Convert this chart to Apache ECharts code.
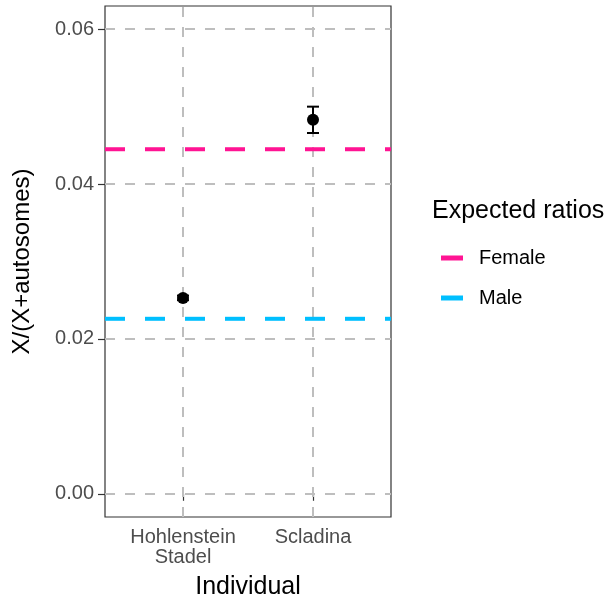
<!DOCTYPE html>
<html>
<head>
<meta charset="utf-8">
<script src="https://cdn.jsdelivr.net/npm/echarts@6/dist/echarts.min.js"></script>
<style>
  html, body { margin: 0; padding: 0; background: #fff; }
  #chart { width: 613px; height: 607px; }
</style>
</head>
<body>
<div id="chart"></div>
<script>
// data
var individuals = ["Hohlenstein\nStadel", "Scladina"];
var ratio = [0.0253, 0.0483];
var ratioLow = [0.0250, 0.0466];
var ratioHigh = [0.0256, 0.0500];
var expectedNames = ["Female", "Male"];
var expectedValues = [0.0445, 0.0226];
var expectedColors = ["#FF1493", "#00BFFF"];
var yTicks = [0, 0.02, 0.04, 0.06];

var xPos = individuals.map(function (n, i) { return i + 1; });
var gridStyle = { color: "#bebebe", width: 2, type: [10, 10] };
var font = "Liberation Sans";

var series = [];

// dashed grid lines (under everything)
series.push({
  type: "line",
  data: [],
  silent: true,
  z: 1,
  markLine: {
    z: 1,
    symbol: "none",
    silent: true,
    label: { show: false },
    lineStyle: gridStyle,
    data: yTicks.map(function (v) { return { yAxis: v }; })
      .concat(xPos.map(function (v) { return { xAxis: v }; }))
  }
});

// expected ratio lines
expectedNames.forEach(function (name, i) {
  series.push({
    name: name,
    type: "line",
    data: [[0.4, expectedValues[i]], [2.6, expectedValues[i]]],
    symbol: "none",
    silent: true,
    z: 3,
    itemStyle: { color: expectedColors[i] },
    lineStyle: { color: expectedColors[i], width: 4, type: [20, 20] }
  });
});

// error bars
series.push({
  type: "custom",
  z: 10,
  silent: true,
  data: xPos.map(function (x, i) { return [x, ratioLow[i], ratioHigh[i]]; }),
  renderItem: function (params, api) {
    var x = api.value(0);
    var lo = api.coord([x, api.value(1)]);
    var hi = api.coord([x, api.value(2)]);
    var hw = 6;
    var st = { stroke: "#000", lineWidth: 2 };
    return {
      type: "group",
      children: [
        { type: "line", shape: { x1: lo[0], y1: lo[1], x2: hi[0], y2: hi[1] }, style: st },
        { type: "line", shape: { x1: lo[0] - hw, y1: lo[1], x2: lo[0] + hw, y2: lo[1] }, style: st },
        { type: "line", shape: { x1: hi[0] - hw, y1: hi[1], x2: hi[0] + hw, y2: hi[1] }, style: st }
      ]
    };
  }
});

// points
series.push({
  type: "scatter",
  z: 11,
  silent: true,
  symbolSize: 12,
  itemStyle: { color: "#000", opacity: 1 },
  data: xPos.map(function (x, i) { return [x, ratio[i]]; })
});

var chart = echarts.init(document.getElementById("chart"), null, { renderer: "canvas" });
chart.setOption({
  animation: false,
  backgroundColor: "#fff",
  grid: { left: 105, right: 222, top: 6, bottom: 90, show: true, borderColor: "#333", borderWidth: 1.2, backgroundColor: "transparent" },
  xAxis: {
    type: "value",
    min: 0.4,
    max: 2.6,
    name: "Individual",
    nameLocation: "middle",
    nameGap: 58,
    nameTextStyle: { fontFamily: font, fontSize: 25, color: "#000" },
    axisLine: { show: false },
    splitLine: { show: false },
    axisTick: { show: true, length: 7, customValues: xPos, lineStyle: { color: "#333", width: 1.2 } },
    axisLabel: {
      customValues: xPos,
      fontFamily: font,
      fontSize: 20,
      color: "#4d4d4d",
      margin: 10,
      lineHeight: 20,
      formatter: function (v) { return individuals[Math.round(v) - 1] || ""; }
    }
  },
  yAxis: {
    type: "value",
    min: -0.003,
    max: 0.063,
    name: "X/(X+autosomes)",
    nameLocation: "middle",
    nameGap: 71,
    nameTextStyle: { fontFamily: font, fontSize: 24, color: "#000" },
    axisLine: { show: false },
    splitLine: { show: false },
    axisTick: { show: true, length: 7, customValues: yTicks, lineStyle: { color: "#333", width: 1.2 } },
    axisLabel: {
      customValues: yTicks,
      fontFamily: font,
      fontSize: 20,
      color: "#4d4d4d",
      margin: 11,
      formatter: function (v) { return v.toFixed(2); }
    }
  },
  legend: {
    data: expectedNames,
    orient: "vertical",
    left: 436,
    top: 243,
    icon: "rect",
    itemWidth: 22,
    itemHeight: 5,
    itemGap: 20,
    textStyle: { fontFamily: font, fontSize: 20, color: "#000", padding: [0, 0, 0, 11], lineHeight: 20 }
  },
  graphic: [{
    type: "text",
    left: 432,
    top: 199,
    style: { text: "Expected ratios", font: "25px 'Liberation Sans'", fill: "#000" }
  }],
  series: series
});
</script>
</body>
</html>
